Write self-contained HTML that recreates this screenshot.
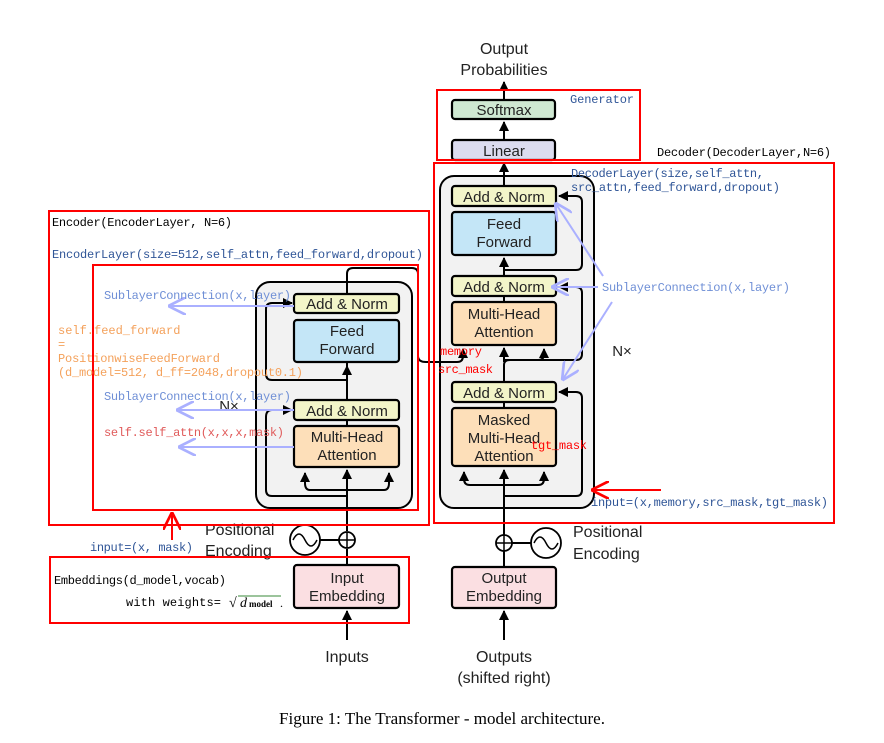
<!DOCTYPE html>
<html><head><meta charset="utf-8"><style>body{margin:0;background:#fff}svg{display:block}</style></head><body>
<svg width="884" height="743" viewBox="0 0 884 743" xmlns="http://www.w3.org/2000/svg">
<defs>
<marker id="a" viewBox="0 0 10 10" refX="9" refY="5" markerWidth="5" markerHeight="5" orient="auto"><path d="M0,0L10,5L0,10z" fill="#000"/></marker>
<marker id="p" viewBox="0 0 10 10" refX="9" refY="5" markerWidth="9" markerHeight="9" orient="auto"><path d="M0,0L10,5L0,10" fill="none" stroke="#aab0ff" stroke-width="1.5"/></marker>
<marker id="r" viewBox="0 0 10 10" refX="9" refY="5" markerWidth="9" markerHeight="9" orient="auto"><path d="M0,0L10,5L0,10" fill="none" stroke="#f00" stroke-width="1.5"/></marker>
</defs>
<g font-family="Liberation Sans, sans-serif" font-size="14" text-anchor="middle" fill="#222">
<text x="504" y="54" font-size="16">Output</text>
<text x="504" y="75" font-size="16">Probabilities</text>
</g>
<rect x="256" y="282" width="156" height="226" rx="14" fill="#f2f2f2" stroke="#000" stroke-width="2"/>
<rect x="440" y="176" width="154" height="332" rx="14" fill="#f2f2f2" stroke="#000" stroke-width="2"/>
<g fill="none" stroke="#000" stroke-width="2">
<path d="M347 640V611" marker-end="url(#a)"/>
<path d="M347 565V549M347 531V470" marker-end="url(#a)"/>
<path d="M347 490H310Q305 490 305 483V473" marker-end="url(#a)"/>
<path d="M347 490H384Q389 490 389 483V473" marker-end="url(#a)"/>
<path d="M347 496H272Q266 496 266 490V417Q266 410 272 410H292" marker-end="url(#a)"/>
<path d="M347 420V426M347 400V366" marker-end="url(#a)"/>
<path d="M347 380H272Q266 380 266 374V309Q266 303 272 303H292" marker-end="url(#a)"/>
<path d="M347 362V380M347 294V274Q347 268 353 268H412Q418 268 418 274V356Q418 362 426 362H457Q463 362 463 356V349" marker-end="url(#a)"/>
<path d="M320 540H339"/>
<path d="M504 640V611" marker-end="url(#a)"/>
<path d="M504 567V551M504 535V470" marker-end="url(#a)"/>
<path d="M504 485H470Q464 485 464 479V472" marker-end="url(#a)"/>
<path d="M504 485H538Q544 485 544 479V472" marker-end="url(#a)"/>
<path d="M504 496H576Q582 496 582 490V398Q582 392 576 392H559" marker-end="url(#a)"/>
<path d="M504 382V370M504 408V402"/>
<path d="M504 380V365Q504 360 510 360H538Q544 360 544 354V349" marker-end="url(#a)"/>
<path d="M504 360H576Q582 360 582 354V293Q582 287 576 287H559" marker-end="url(#a)"/>
<path d="M504 362V348" marker-end="url(#a)"/>
<path d="M504 302V296M504 276V258" marker-end="url(#a)"/>
<path d="M504 270H576Q582 270 582 264V202Q582 196 576 196H559" marker-end="url(#a)"/>
<path d="M504 186V163" marker-end="url(#a)"/>
<path d="M504 140V122" marker-end="url(#a)"/>
<path d="M504 100V82" marker-end="url(#a)"/>
<path d="M512 543H531"/>
</g>
<g stroke="#000" stroke-width="2.2">
<rect x="294" y="294" width="105" height="19" rx="3" fill="#f3f5c9"/>
<rect x="294" y="320" width="105" height="42" rx="3" fill="#c4e6f7"/>
<rect x="294" y="400" width="105" height="20" rx="3" fill="#f3f5c9"/>
<rect x="294" y="426" width="105" height="41" rx="3" fill="#fddfb9"/>
<rect x="294" y="565" width="105" height="43" rx="3" fill="#fbdfe2"/>
<rect x="452" y="186" width="104" height="20" rx="3" fill="#f3f5c9"/>
<rect x="452" y="212" width="104" height="43" rx="3" fill="#c4e6f7"/>
<rect x="452" y="276" width="104" height="20" rx="3" fill="#f3f5c9"/>
<rect x="452" y="302" width="104" height="43" rx="3" fill="#fddfb9"/>
<rect x="452" y="382" width="104" height="20" rx="3" fill="#f3f5c9"/>
<rect x="452" y="408" width="104" height="58" rx="3" fill="#fddfb9"/>
<rect x="452" y="567" width="104" height="41" rx="3" fill="#fbdfe2"/>
<rect x="452" y="100" width="103" height="19" rx="3" fill="#cfe8d2"/>
<rect x="452" y="140" width="103" height="20" rx="3" fill="#dcdcef"/>
</g>
<g fill="#fff" stroke="#000" stroke-width="1.8">
<circle cx="305" cy="540" r="15"/><circle cx="347" cy="540" r="8"/>
<circle cx="546" cy="543" r="15"/><circle cx="504" cy="543" r="8"/>
</g>
<g stroke="#000" stroke-width="1.5" fill="none">
<path d="M339 540H355M347 532V548M496 543H512M504 535V551"/>
<path d="M293 540Q299 528 305 540T317 540"/>
<path d="M534 543Q540 531 546 543T558 543"/>
</g>
<g font-family="Liberation Sans, sans-serif" font-size="15" text-anchor="middle" fill="#222">
<text x="347" y="309">Add &amp; Norm</text>
<text x="347" y="336">Feed</text><text x="347" y="354">Forward</text>
<text x="347" y="416">Add &amp; Norm</text>
<text x="347" y="442">Multi-Head</text><text x="347" y="460">Attention</text>
<text x="347" y="583">Input</text><text x="347" y="601">Embedding</text>
<text x="504" y="202">Add &amp; Norm</text>
<text x="504" y="229">Feed</text><text x="504" y="247">Forward</text>
<text x="504" y="292">Add &amp; Norm</text>
<text x="504" y="319">Multi-Head</text><text x="504" y="337">Attention</text>
<text x="504" y="398">Add &amp; Norm</text>
<text x="504" y="425">Masked</text><text x="504" y="443">Multi-Head</text><text x="504" y="461">Attention</text>
<text x="504" y="583">Output</text><text x="504" y="601">Embedding</text>
<text x="504" y="115">Softmax</text>
<text x="504" y="156">Linear</text>
<text x="347" y="662" font-size="16">Inputs</text>
<text x="504" y="662" font-size="16">Outputs</text>
<text x="504" y="683" font-size="16">(shifted right)</text>
<text x="229" y="411" font-size="15">N×</text>
<text x="622" y="356" font-size="15">N×</text>
<g text-anchor="start" font-size="16"><text x="205" y="535">Positional</text><text x="205" y="556">Encoding</text>
<text x="573" y="537">Positional</text><text x="573" y="559">Encoding</text></g>
</g>
<text x="442" y="724" font-family="Liberation Serif, serif" font-size="17" text-anchor="middle" fill="#000">Figure 1: The Transformer - model architecture.</text>
<g fill="none" stroke="#f00" stroke-width="2">
<rect x="49" y="211" width="380" height="314"/>
<rect x="93" y="265" width="325" height="245"/>
<rect x="50" y="557" width="359" height="66"/>
<rect x="437" y="90" width="203" height="70"/>
<rect x="434" y="163" width="400" height="360"/>
<path d="M172 540V514" marker-end="url(#r)"/>
<path d="M661 490H593" marker-end="url(#r)"/>
</g>
<g stroke="#aab0ff" stroke-width="2" fill="none">
<path d="M294 306H170" marker-end="url(#p)"/>
<path d="M294 410H178" marker-end="url(#p)"/>
<path d="M294 447H180" marker-end="url(#p)"/>
<path d="M598 287H553" marker-end="url(#p)"/>
<path d="M603 276L556 204" marker-end="url(#p)"/>
<path d="M612 302L563 379" marker-end="url(#p)"/>
</g>
<g font-family="Liberation Mono, 'Noto Sans CJK SC', monospace" font-size="12">
<text x="52" y="226" fill="#000" textLength="180">Encoder(EncoderLayer, N=6)</text>
<text x="52" y="258" fill="#2f5597" textLength="371">EncoderLayer(size=512,self_attn,feed_forward,dropout)</text>
<text x="104" y="299" fill="#6f8fd6" textLength="187">SublayerConnection(x,layer)</text>
<text x="104" y="400" fill="#6f8fd6" textLength="187">SublayerConnection(x,layer)</text>
<text x="58" y="334" fill="#f4a15b">self.feed_forward</text>
<text x="58" y="348" fill="#f4a15b">=</text>
<text x="58" y="362" fill="#f4a15b" textLength="162">PositionwiseFeedForward</text>
<text x="58" y="376" fill="#f4a15b" textLength="245">(d_model=512, d_ff=2048,dropout0.1)</text>
<text x="104" y="436" fill="#e05a5a" textLength="180">self.self_attn(x,x,x,mask)</text>
<text x="90" y="551" fill="#2f5597" textLength="103">input=(x, mask)</text>
<text x="54" y="584" fill="#000" textLength="172">Embeddings(d_model,vocab)</text>
<text x="126" y="606" fill="#000" textLength="95">with weights=</text>
<text x="570" y="103" fill="#2f5597" textLength="64">Generator</text>
<text x="657" y="156" fill="#000" textLength="174">Decoder(DecoderLayer,N=6)</text>
<text x="571" y="177" fill="#2f5597" textLength="193">DecoderLayer(size,self_attn,</text>
<text x="571" y="191" fill="#2f5597" textLength="209">src_attn,feed_forward,dropout)</text>
<text x="602" y="291" fill="#6f8fd6" textLength="188">SublayerConnection(x,layer)</text>
<text x="440" y="355" fill="#f00" textLength="42">memory</text>
<text x="438" y="373" fill="#f00" textLength="55">src_mask</text>
<text x="531" y="449" fill="#f00" textLength="56">tgt_mask</text>
<text x="591" y="506" fill="#2f5597" textLength="237">input=(x,memory,src_mask,tgt_mask)</text>
</g>
<g font-family="Liberation Serif, serif" fill="#000">
<text x="229" y="607" font-size="14">√</text>
<path d="M238 596H281" stroke="#3a8a3a" stroke-width="1"/>
<text x="240" y="607" font-size="14" font-style="italic">d</text>
<text x="249" y="607" font-size="9" font-weight="bold">model</text>
<text x="280" y="607" font-size="12">.</text>
</g>
</svg>
</body></html>
